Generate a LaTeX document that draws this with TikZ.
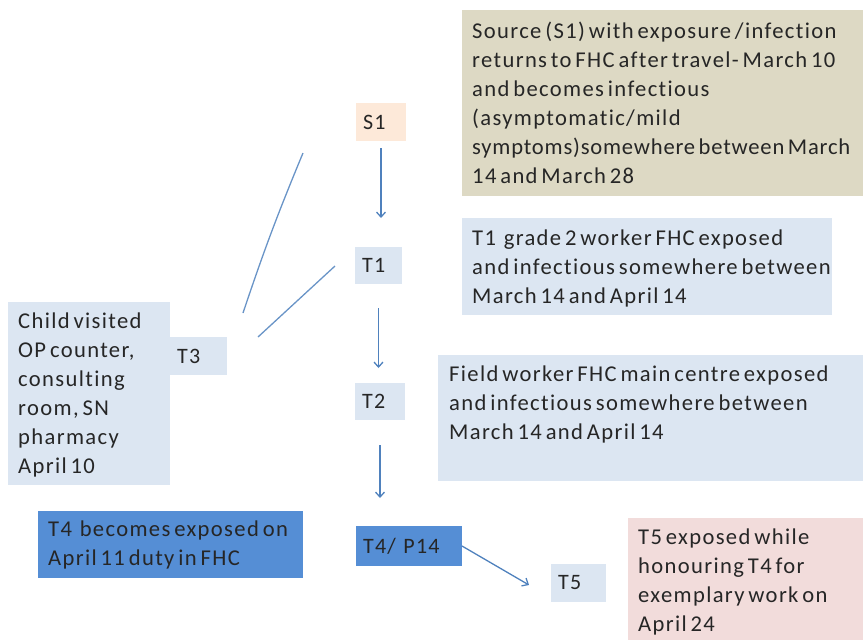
\documentclass[tikz,border=0pt]{standalone}
\usepackage{fontspec}
\setmainfont[LetterSpace=6,WordSpace=0.6,Ligatures=NoCommon]{Carlito}
\usetikzlibrary{arrows.meta}
\definecolor{tanbg}{HTML}{DDD9C4}
\definecolor{peach}{HTML}{FDE9D9}
\definecolor{ltblue}{HTML}{DCE6F2}
\definecolor{medblue}{HTML}{558ED5}
\definecolor{pinkbg}{HTML}{F2DCDB}
\definecolor{linecol}{HTML}{4F81BD}
\definecolor{txt}{HTML}{262626}
\tikzset{
  txtstyle/.style={font=\fontsize{22.6}{29}\selectfont, text=txt, align=left, inner sep=0pt, anchor=west},
  tag/.style={rectangle, inner xsep=7pt, inner ysep=0pt, outer sep=0pt, anchor=west, font=\fontsize{22}{23}\selectfont, text=txt, align=left},
  conn/.style={draw=linecol, line width=1.3pt, -{Straight Barb[length=5pt,width=9pt,line width=1.3pt]}},
  plain/.style={draw=linecol!85, line width=1.3pt}
}
\begin{document}
\begin{tikzpicture}[x=1pt,y=-1pt]
\useasboundingbox (0,0) rectangle (863,640);
% description boxes
\fill[tanbg] (462,10) rectangle (870,196);
\node[txtstyle] (srctext) at (472,103) {Source (S1) with exposure /infection\\returns to FHC after travel- March 10\\and becomes infectious\\(asymptomatic/mild\\{\addfontfeature{LetterSpace=3.5}symptoms)somewhere between March}\\14 and March 28};
\fill[ltblue] (462,218) rectangle (832,315);
\node[txtstyle] (t1text) at (472,268) {T1\ \ grade 2 worker FHC exposed\\and infectious somewhere between\\March 14 and April 14};
\fill[ltblue] (438,355) rectangle (870,481);
\node[txtstyle] (t2text) at (449,404) {Field worker FHC main centre exposed\\and infectious somewhere between\\March 14 and April 14};
\fill[ltblue] (8,302) rectangle (170,485);
\node[txtstyle] (childtext) at (18,395) {Child visited\\OP counter,\\consulting\\room, SN\\pharmacy\\April 10};
\fill[medblue] (38,511) rectangle (303,578);
\node[txtstyle] (t4text) at (48,545) {T4\ \ becomes exposed on\\April 11 duty in FHC};
\fill[pinkbg] (628,518) rectangle (870,650);
\node[txtstyle] (t5text) at (638,582) {T5 exposed while\\honouring T4 for\\exemplary work on\\April 24};
% tag nodes
\node[tag, fill=peach, minimum height=38pt, text width=36pt] (S1) at (356,122) {S1};
\node[tag, fill=ltblue, minimum height=37pt, text width=33pt] (T1) at (355,265.5) {T1};
\node[tag, fill=ltblue, minimum height=37pt, text width=36pt] (T2) at (355,401.5) {T2};
\node[tag, fill=ltblue, minimum height=38pt, text width=43pt] (T3) at (170,356) {T3};
\node[tag, fill=medblue, minimum height=40pt, text width=92pt] (T4) at (356,546) {T4/ P14};
\node[tag, fill=ltblue, minimum height=38pt, text width=41pt] (T5) at (551,583) {T5};
% connectors
\draw[conn, shorten <=7pt, shorten >=29pt] (S1.south) -- (S1.south |- T1.north);
\draw[conn, shorten <=24pt, shorten >=15pt] (T1.south) -- (T1.south |- T2.north);
\draw[conn, shorten <=25pt, shorten >=28pt] (T2.south) -- (T2.south |- T4.north);
\coordinate (t5in) at (529,585);
\draw[conn] (T4.east) -- (t5in);
% free lines near T3
\coordinate (la1) at (243,313);
\coordinate (la2) at (303,153);
\coordinate (lb1) at (258,337);
\coordinate (lb2) at (335,266);
\draw[plain] (la1) to[bend left=2] (la2);
\draw[plain] (lb1) -- (lb2);
\end{tikzpicture}
\end{document}
